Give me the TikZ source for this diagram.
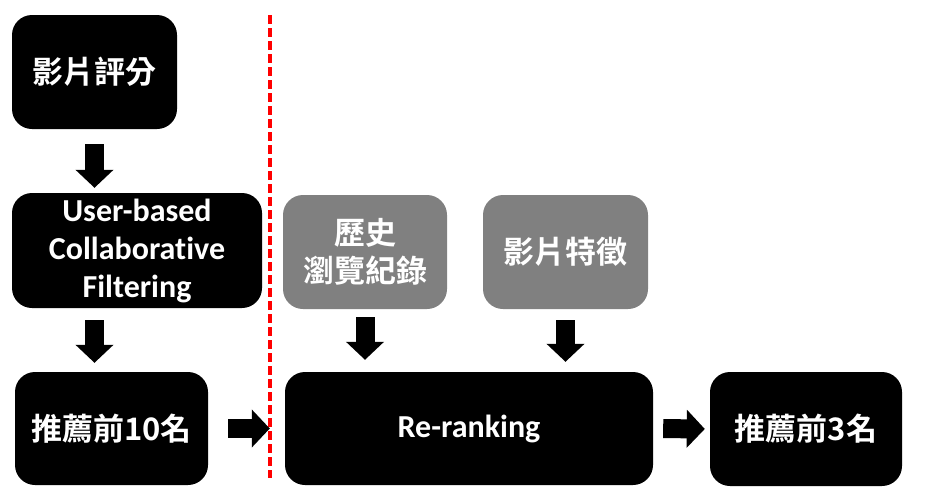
\documentclass[tikz,border=0pt]{standalone}
\usepackage{fontspec}
\setmainfont{Carlito}[Ligatures=NoCommon]
\newfontfamily\cjkfont{Noto Sans CJK TC Bold}
\usetikzlibrary{positioning,arrows.meta}

\begin{document}
\begin{tikzpicture}[x=1pt,y=-1pt,
  darkbox/.style={fill=black,text=white,rounded corners=20pt,inner sep=0pt,align=center},
  greybox/.style={darkbox,fill=gray},
  cjk/.style={font=\cjkfont\fontsize{31}{38}\selectfont},
  latin/.style={font=\bfseries\fontsize{32}{38}\selectfont},
  blockarrow/.style={line width=19pt,-{Triangle[width=37pt,length=18pt]}},
  divider/.style={red,line width=3.5pt,dash pattern=on 9pt off 4pt},
  ]

  \useasboundingbox [fill=white] (0,0) rectangle (926,501);

  \node (rating) at (94.5,72) [darkbox,cjk,minimum width=165pt,minimum height=114pt] {影片評分};
  \node (cf) at (137,250.5) [darkbox,latin,minimum width=250pt,minimum height=115pt] {User-based\\Collaborative\\Filtering};
  \node (top10) at (111.5,428.5) [darkbox,cjk,minimum width=193pt,minimum height=113pt] {推薦前10名};

  \node (history) at (365,252) [greybox,cjk,minimum width=164pt,minimum height=114pt] {歷史\\瀏覽紀錄};
  \node (feature) at (565.5,252) [greybox,cjk,minimum width=165pt,minimum height=114pt] {影片特徵};
  \node (rerank) at (469,428.5) [darkbox,latin,minimum width=368pt,minimum height=113pt] {Re-ranking};
  \node (top3) at (806,429) [darkbox,cjk,minimum width=192pt,minimum height=114pt] {推薦前3名};

  \coordinate (cuttop) at (270,15);
  \coordinate (cutbottom) at (270,478);
  \draw [divider] (cuttop) -- (cutbottom);

  \draw [blockarrow,shorten <=15pt,shorten >=5pt] (rating.south) -- (rating.south |- cf.north);
  \draw [blockarrow,shorten <=12pt,shorten >=9pt] (cf.south -| rating.south) -- (rating.south |- top10.north);
  \draw [blockarrow,shorten <=20pt,shorten >=15pt] (top10.east) -- (rerank.west);
  \draw [blockarrow,shorten <=8pt,shorten >=12pt] (history.south) -- (history.south |- rerank.north);
  \draw [blockarrow,shorten <=11pt,shorten >=10pt] (feature.south) -- (feature.south |- rerank.north);
  \draw [blockarrow,shorten <=10pt,shorten >=5pt] (rerank.east) -- (top3.west);
%
\end{tikzpicture}
\end{document}
